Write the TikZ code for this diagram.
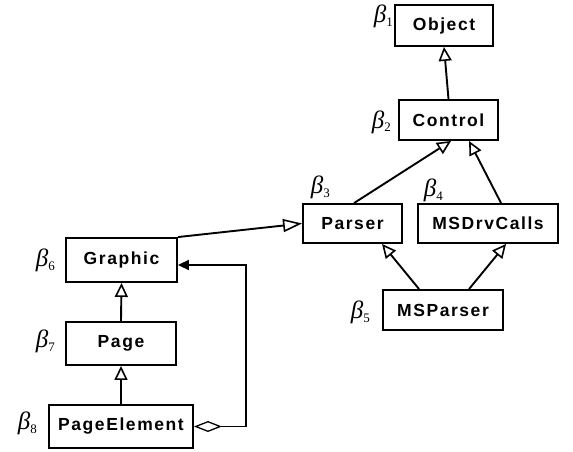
\documentclass[tikz,border=0pt]{standalone}
\usepackage{fontspec}
\setsansfont{Liberation Sans}
\newfontfamily\boxfont[LetterSpace=9]{Liberation Sans Bold}
\newfontfamily\betafont{Liberation Serif}
\usetikzlibrary{arrows.meta,calc}
\newcommand{\bet}[1]{{\betafont\itshape β}\raisebox{-4pt}{\betafont\fontsize{13}{13}\selectfont #1}}
\tikzset{
  cls/.style={draw, line width=1.9pt, rectangle, inner sep=0pt,
    font=\boxfont\fontsize{17.5}{20}\selectfont},
  blab/.style={anchor=base east, inner sep=0pt, font=\fontsize{25}{28}\selectfont},
  gen/.style={line width=1.9pt, -{Triangle[open,length=14pt,width=13pt,line width=1.6pt]}},
  genlong/.style={line width=1.9pt, -{Triangle[open,length=19pt,width=13pt,line width=1.6pt]}},
  agg/.style={line width=1.9pt, {Diamond[open,length=28pt,width=11pt,line width=1.3pt]}-{Triangle[length=11pt,width=10pt]}}
}
\begin{document}
\begin{tikzpicture}[x=1pt,y=-1pt]
\useasboundingbox (0,0) rectangle (573,452);
% classes
\node[cls, minimum width=98pt, minimum height=41pt] (object) at (444,25.5) {Object};
\node[cls, minimum width=99pt, minimum height=40pt] (control) at (448.5,120) {Control};
\node[cls, minimum width=99pt, minimum height=39pt] (parser) at (352.5,223.5) {Parser};
\node[cls, minimum width=140pt, minimum height=39pt] (msdrv) at (488,223.5) {MSDrvCalls};
\node[cls, minimum width=120pt, minimum height=40pt] (msparser) at (443,310) {MSParser};
\node[cls, minimum width=111pt, minimum height=44pt] (graphic) at (121.5,260) {Graphic};
\node[cls, minimum width=110pt, minimum height=43pt] (page) at (121,343.5) {Page};
\node[cls, minimum width=144pt, minimum height=43pt] (pelem) at (121,426.5) {PageElement};
% labels
\node[blab] (b1) at (393,23) {\bet{1}};
\node[blab] (b2) at (391,128) {\bet{2}};
\node[blab] (b3) at (330,193) {\bet{3}};
\node[blab] (b4) at (443,196) {\bet{4}};
\node[blab] (b5) at (370,318) {\bet{5}};
\node[blab] (b6) at (55,266) {\bet{6}};
\node[blab] (b7) at (55,347) {\bet{7}};
\node[blab] (b8) at (37,429) {\bet{8}};
% generalizations
\draw[gen] (control.north) -- (object.south);
\draw[gen] ($(parser.north west)+(52,0)$) -- ($(control.south west)+(53,0)$);
\draw[gen] ($(msdrv.north west)+(84,0)$) -- ($(control.south west)+(71,0)$);
\draw[gen] ($(msparser.north west)+(37,0)$) -- ($(parser.south west)+(80,0)$);
\draw[gen] ($(msparser.north west)+(87,0)$) -- ($(msdrv.south west)+(89,0)$);
\draw[genlong] (graphic.north east) -- (parser.west);
\draw[gen] (page.north) -- (graphic.south);
\draw[gen] (pelem.north) -- (page.south);
% aggregation
\coordinate (bend) at (246,426.5);
\draw[agg, line join=miter] (pelem.east) -- (bend) |- ($(graphic.east)+(0,5)$);
\end{tikzpicture}
\end{document}
